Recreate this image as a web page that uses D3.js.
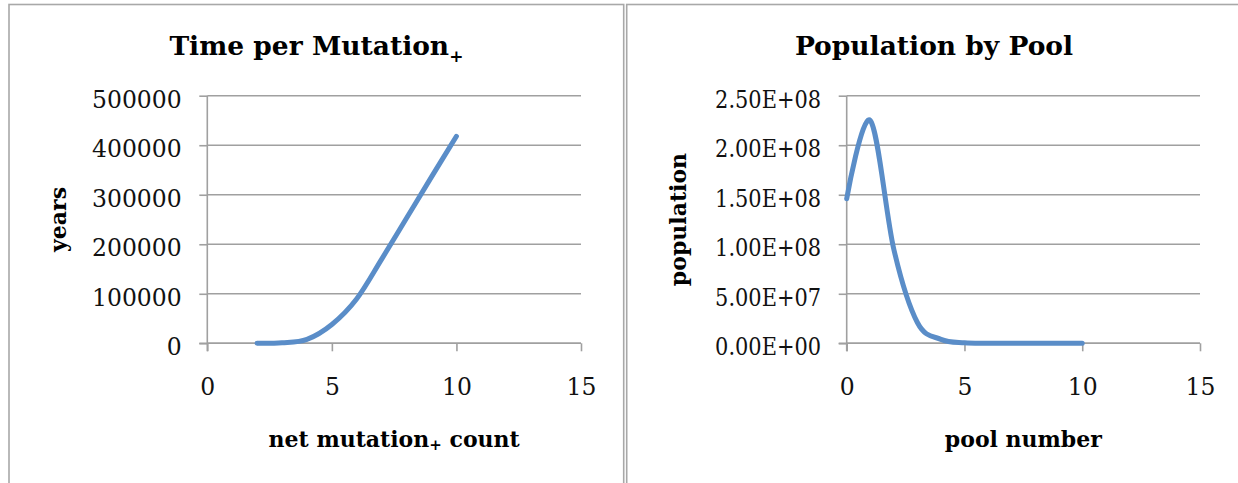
<!DOCTYPE html>
<html>
<head>
<meta charset="utf-8">
<script src="https://cdn.jsdelivr.net/npm/d3@7"></script>
<style>
  body { margin: 0; background: #ffffff; }
  svg { display: block; }
</style>
</head>
<body>
<svg id="chart" width="1238" height="483"></svg>
<script>
// ---- data ----
const mutationCounts = [2, 3, 4, 5, 6, 7, 8, 9, 10];
const yearsPerMutation = [0, 1000, 8000, 38000, 90000, 170000, 253000, 336000, 418000];

const poolNumbers = [0, 1, 2, 3, 4, 5, 6, 7, 8, 9, 10];
const poolPopulation = [146e6, 225e6, 95e6, 21e6, 4e6, 5e5, 5e4, 4e3, 0, 0, 0];

const xTickValues = [0, 5, 10, 15];
const yearsTickValues = [0, 100000, 200000, 300000, 400000, 500000];
const yearsTickLabels = ["0", "100000", "200000", "300000", "400000", "500000"];
const popTickValues = [0, 5e7, 1e8, 1.5e8, 2e8, 2.5e8];
const popTickLabels = ["0.00E+00", "5.00E+07", "1.00E+08", "1.50E+08", "2.00E+08", "2.50E+08"];

const titles = ["Time per Mutation", "Population by Pool"];
const xTitles = ["net mutation", "pool number"];
const yTitles = ["years", "population"];

// ---- layout ----
const svg = d3.select("#chart");
const GRID = "#a0a0a0";
const LINE = "#5a8dc8";
const SERIF = "'DejaVu Serif', 'Liberation Serif', serif";

const panels = [
  { bx: 9, bw: 614.7, x0: 207.3, x1: 581, cx: 316.4,
    xs: mutationCounts, ys: yearsPerMutation, yMax: 500000,
    yTicks: yearsTickValues, yLabels: yearsTickLabels, yLabelWidth: null,
    title: titles[0], titleSub: true, xTitle: xTitles[0], xSub: true, yTitle: yTitles[0], yTitleX: 66 },
  { bx: 626.7, bw: 640, x0: 846.7, x1: 1200, cx: 934,
    xs: poolNumbers, ys: poolPopulation, yMax: 2.5e8,
    yTicks: popTickValues, yLabels: popTickLabels, yLabelWidth: 106,
    title: titles[1], titleSub: false, xTitle: xTitles[1], xSub: false, yTitle: yTitles[1], yTitleX: 686 }
];
const Y0 = 95.7, Y1 = 343.3;

panels.forEach(p => {
  const g = svg.append("g");
  // panel border
  g.append("rect")
    .attr("x", p.bx).attr("y", 4.5).attr("width", p.bw).attr("height", 520)
    .attr("fill", "none").attr("stroke", "#a8a8a8").attr("stroke-width", 1.6);

  const x = d3.scaleLinear().domain([0, 15]).range([p.x0, p.x1]);
  const y = d3.scaleLinear().domain([0, p.yMax]).range([Y1, Y0]);

  // gridlines
  g.append("g").selectAll("line").data(p.yTicks).join("line")
    .attr("x1", p.x0).attr("x2", p.x1)
    .attr("y1", d => y(d)).attr("y2", d => y(d))
    .attr("stroke", GRID).attr("stroke-width", 1.6);

  // y axis
  const yAxis = d3.axisLeft(y).tickValues(p.yTicks).tickSize(8).tickPadding(17.6)
    .tickFormat((d, i) => p.yLabels[i]);
  const ya = g.append("g").attr("transform", `translate(${p.x0},0)`).call(yAxis);
  ya.select(".domain").attr("stroke", GRID).attr("stroke-width", 1.6)
    .attr("d", `M0,${Y0}V${Y1 + 8}`);
  ya.selectAll(".tick line").attr("stroke", GRID).attr("stroke-width", 1.6);
  ya.selectAll(".tick text")
    .attr("dy", "11.6px").attr("fill", "#111")
    .style("font-family", SERIF).style("font-size", "23.5px");
  if (p.yLabelWidth) {
    ya.selectAll(".tick text").attr("textLength", p.yLabelWidth).attr("lengthAdjust", "spacingAndGlyphs");
  }

  // x axis
  const xAxis = d3.axisBottom(x).tickValues(xTickValues).tickSize(8).tickFormat(d3.format("d"));
  const xa = g.append("g").attr("transform", `translate(0,${Y1})`).call(xAxis);
  xa.select(".domain").attr("stroke", GRID).attr("stroke-width", 1.6)
    .attr("d", `M${p.x0 - 8},0H${p.x1}`);
  xa.selectAll(".tick line").attr("stroke", GRID).attr("stroke-width", 1.6);
  xa.selectAll(".tick text")
    .attr("y", 51.7).attr("dy", null).attr("fill", "#111")
    .style("font-family", SERIF).style("font-size", "23.5px");

  // series line (Excel-style smoothed line)
  const line = d3.line()
    .x((d, i) => x(p.xs[i]))
    .y(d => y(d))
    .curve(d3.curveCatmullRom.alpha(0));
  g.append("path").datum(p.ys)
    .attr("d", line)
    .attr("fill", "none").attr("stroke", LINE).attr("stroke-width", 5)
    .attr("stroke-linecap", "round").attr("stroke-linejoin", "round");

  // title
  const t = g.append("text")
    .attr("x", p.cx).attr("y", 55).attr("text-anchor", "middle")
    .style("font-family", SERIF).style("font-weight", "bold").style("font-size", "26.5px")
    .attr("fill", "#000");
  t.append("tspan").text(p.title);
  if (p.titleSub) t.append("tspan").attr("dy", 7).style("font-size", "17px").text("+");

  // x axis title
  const xt = g.append("text")
    .attr("x", (p.x0 + p.x1) / 2).attr("y", 447).attr("text-anchor", "middle")
    .style("font-family", SERIF).style("font-weight", "bold").style("font-size", "22px")
    .attr("fill", "#000");
  xt.append("tspan").text(p.xTitle);
  if (p.xSub) {
    xt.append("tspan").attr("dy", 3).style("font-size", "15px").text("+");
    xt.append("tspan").attr("dy", -3).text(" count");
  }

  // y axis title
  g.append("text")
    .attr("transform", `translate(${p.yTitleX},${(Y0 + Y1) / 2}) rotate(-90)`)
    .attr("text-anchor", "middle")
    .style("font-family", SERIF).style("font-weight", "bold").style("font-size", "22px")
    .attr("fill", "#000")
    .text(p.yTitle);
});
</script>
</body>
</html>
